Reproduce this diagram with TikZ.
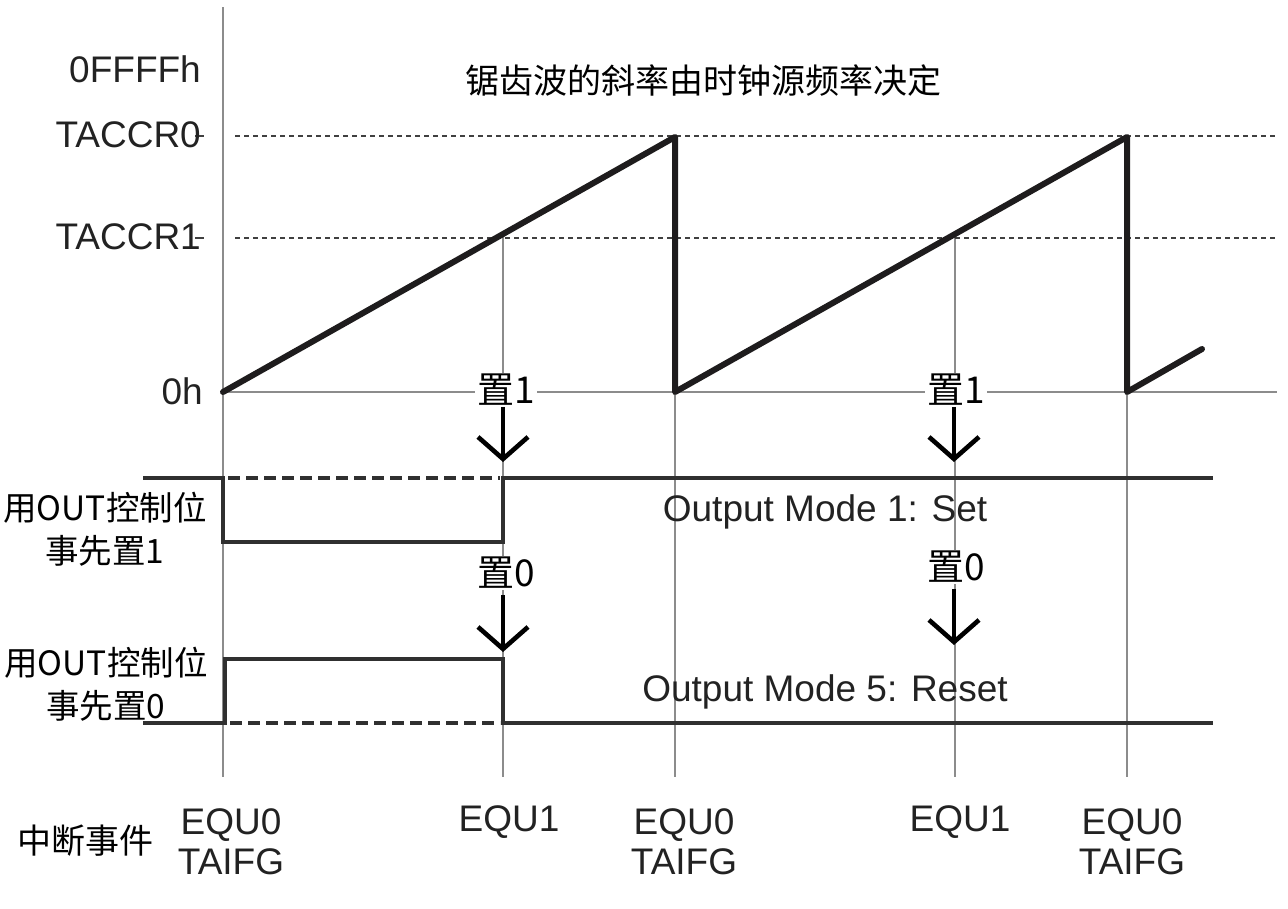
\documentclass[tikz,border=0pt]{standalone}
\usepackage{fontspec}
\setmainfont{Liberation Sans}
\newfontfamily\cjk{Noto Sans CJK SC}
\usetikzlibrary{arrows.meta}
\definecolor{axisgray}{HTML}{8C8C8C}
\definecolor{ink}{HTML}{1E1C1D}
\definecolor{stepc}{HTML}{303030}
\definecolor{dashc}{HTML}{404040}
\definecolor{txt}{HTML}{222222}
\tikzset{
  axisline/.style={axisgray, line width=2.6pt},
  guide/.style={axisgray, line width=2pt},
  level/.style={dashc, line width=1.3pt, dash pattern=on 5pt off 4pt},
  saw/.style={ink, line width=6pt, line join=round, line cap=round},
  sig/.style={stepc, line width=4pt, line join=miter},
  sigdash/.style={stepc, line width=4pt, dash pattern=on 12pt off 6pt},
  setarrow/.style={black, line width=4.6pt, -{Straight Barb[length=22pt,width=50pt]}},
  axlab/.style={text=txt, font=\fontsize{37}{40}\selectfont, inner sep=0pt, anchor=east},
  evlab/.style={text=txt, font=\fontsize{37}{40}\selectfont, inner sep=0pt, align=center},
  modelab/.style={text=txt, font=\fontsize{37}{40}\selectfont, inner sep=0pt},
  cjklab/.style={text=black, font=\cjk\fontsize{33.5}{43}\selectfont, inner sep=0pt, align=center},
  setlab/.style={text=black, fill=white, font=\cjk\fontsize{37}{40}\selectfont, inner xsep=2pt, inner ysep=1pt},
}
\begin{document}
\begin{tikzpicture}[x=1pt,y=-1pt]
\useasboundingbox (0,0) rectangle (1288,908);
% guides
\draw[axisline] (223,7) -- (223,777);
\draw[guide] (503,236) -- (503,777);
\draw[guide] (955,236) -- (955,777);
\draw[guide] (675,137) -- (675,777);
\draw[guide] (1127,137) -- (1127,777);
\draw[axisline] (223,392) -- (1277,392);
\draw[level] (235,136) -- (1277,136);
\draw[level] (235,238) -- (1277,238);
\draw[dashc, line width=1.4pt] (195,136) -- (204,136);
\draw[dashc, line width=1.4pt] (195,238) -- (204,238);
% sawtooth
\draw[saw] (223,392) -- (675,137) -- (675,392) -- (1127,137) -- (1127,392) -- (1202,349);
% output mode 1
\draw[sig] (143,478) -- (223,478) -- (223,542) -- (503,542) -- (503,478) -- (1213,478);
\draw[sigdash] (228,478) -- (500,478);
% output mode 5
\draw[sig] (143,723) -- (225,723) -- (225,659) -- (503,659) -- (503,723) -- (1213,723);
\draw[sigdash] (230,723) -- (500,723);
% axis labels
\node[axlab] (lffff) at (201,69) {0FFFFh};
\node[axlab] (lccr0) at (201,135) {TACCR0};
\node[axlab] (lccr1) at (201,237) {TACCR1};
\node[axlab] (l0h) at (203,391) {0h};
% title
\node[text=black, font=\cjk\fontsize{34}{36}\selectfont, inner sep=0pt] (title) at (703,81) {锯齿波的斜率由时钟源频率决定};
% mode labels
\node[modelab] (m1) at (825,512) {Output Mode 1: Set};
\node[modelab] (m5) at (825,692) {Output Mode 5: Reset};
% left labels
\node[cjklab] (pre1) at (105,529) {用OUT控制位\\事先置1};
\node[cjklab] (pre0) at (106,684) {用OUT控制位\\事先置0};
\node[text=black, font=\cjk\fontsize{34}{36}\selectfont, inner sep=0pt] (irq) at (85,841) {中断事件};
% set labels and arrows
\node[setlab] (s1a) at (506,390) {置1};
\node[setlab] (s1b) at (956,390) {置1};
\node[setlab] (s0a) at (506,573) {置0};
\node[setlab] (s0b) at (956,567) {置0};
\coordinate (e1a) at (503,462);
\coordinate (e1b) at (954,462);
\coordinate (e0a) at (503,652);
\coordinate (e0b) at (954,645);
\draw[setarrow] (s1a.south -| e1a) -- (e1a);
\draw[setarrow] (s1b.south -| e1b) -- (e1b);
\draw[setarrow, shorten <=5pt] (s0a.south -| e0a) -- (e0a);
\draw[setarrow, shorten <=5pt] (s0b.south -| e0b) -- (e0b);
% event labels
\node[evlab] (ev1) at (231,842) {EQU0\\TAIFG};
\node[evlab] (ev2) at (509,822) {EQU1};
\node[evlab] (ev3) at (684,842) {EQU0\\TAIFG};
\node[evlab] (ev4) at (960,822) {EQU1};
\node[evlab] (ev5) at (1132,842) {EQU0\\TAIFG};
\end{tikzpicture}
\end{document}
